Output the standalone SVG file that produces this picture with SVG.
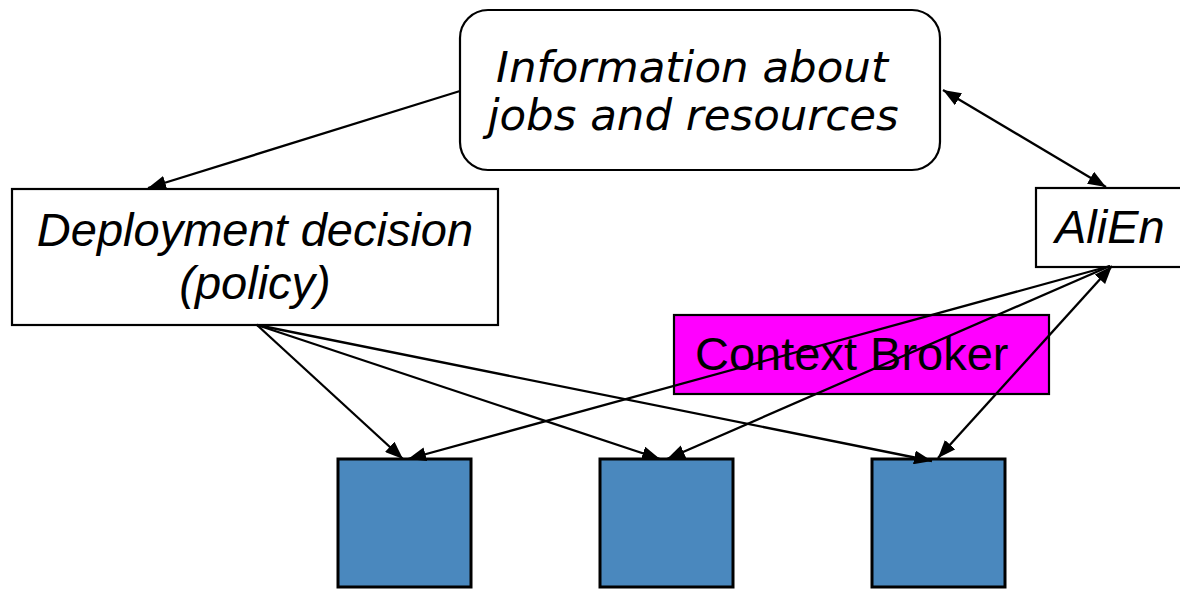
<svg xmlns="http://www.w3.org/2000/svg" width="1180" height="589" viewBox="0 0 1180 589">
<style>
.box{fill:#fff;stroke:#000;stroke-width:2.2}
.blue{fill:#4A88BE;stroke:#000;stroke-width:3}
.ln{stroke:#000;stroke-width:2.3;fill:none}
.ar{font-family:"Liberation Sans",Arial,sans-serif;font-size:47px;fill:#000}
.it{font-style:italic}
.dv{font-family:"DejaVu Sans",Verdana,sans-serif;font-size:43.5px;font-style:italic;fill:#000}
</style>
<defs>
<marker id="ah" viewBox="0 0 18 14" refX="18" refY="7" markerWidth="18" markerHeight="14" markerUnits="userSpaceOnUse" orient="auto-start-reverse">
<path d="M0,0 L18,7 L0,14 z" fill="#000"/>
</marker>
</defs>
<g id="info">
<rect class="box" x="460" y="10" width="480" height="160" rx="28" ry="28"/>
<text class="dv" x="692" y="82" text-anchor="middle">Information about</text>
<text class="dv" x="693" y="130" text-anchor="middle">jobs and resources</text>
</g>
<g id="deploy">
<rect class="box" x="12" y="189" width="486" height="136"/>
<text class="ar it" x="255" y="246" text-anchor="middle">Deployment decision</text>
<text class="ar it" x="255" y="299" text-anchor="middle">(policy)</text>
</g>
<g id="alien">
<rect class="box" x="1036" y="188" width="160" height="79"/>
<text class="ar it" x="1055" y="243">AliEn</text>
</g>
<g id="broker">
<rect x="674" y="315" width="375" height="79" fill="#FF00FF" stroke="#000" stroke-width="2.2"/>
<text class="ar" x="695" y="370">Context Broker</text>
</g>
<g id="res1"><rect class="blue" x="338" y="459" width="133" height="128"/></g>
<g id="res2"><rect class="blue" x="600" y="459" width="133" height="128"/></g>
<g id="res3"><rect class="blue" x="872" y="459" width="133" height="128"/></g>
<g id="connectors">
<line class="ln" x1="460" y1="91" x2="148" y2="188" marker-end="url(#ah)"/>
<line class="ln" x1="943" y1="90" x2="1106" y2="187" marker-start="url(#ah)" marker-end="url(#ah)"/>
<line class="ln" x1="257" y1="325" x2="403" y2="459" marker-end="url(#ah)"/>
<line class="ln" x1="257" y1="325" x2="660" y2="459" marker-end="url(#ah)"/>
<line class="ln" x1="257" y1="325" x2="932" y2="461" marker-end="url(#ah)"/>
<line class="ln" x1="1110" y1="266" x2="408" y2="459" marker-end="url(#ah)"/>
<line class="ln" x1="1110" y1="266" x2="667" y2="459" marker-end="url(#ah)"/>
<line class="ln" x1="1112" y1="266" x2="938" y2="458" marker-start="url(#ah)" marker-end="url(#ah)"/>
</g>
</svg>
